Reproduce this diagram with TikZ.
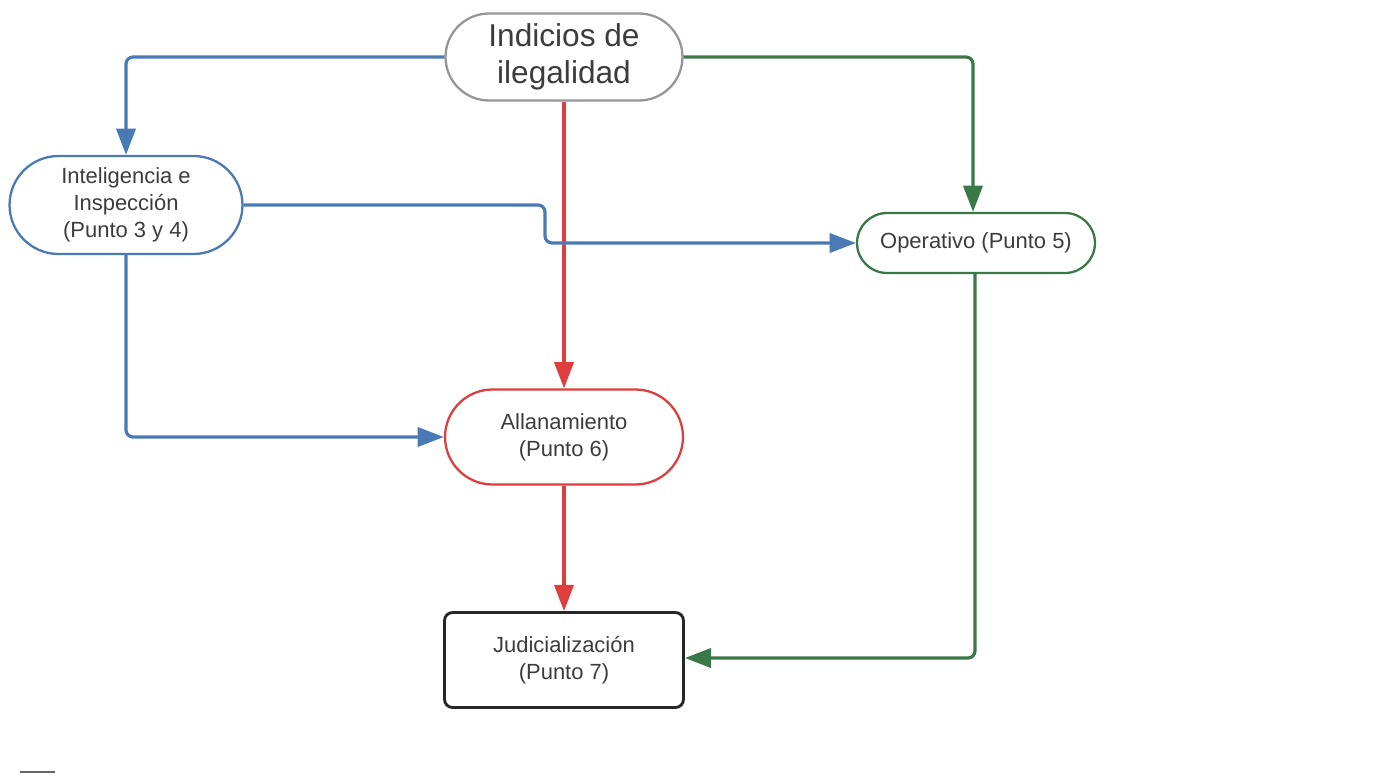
\documentclass[tikz,border=0pt]{standalone}
\usepackage{fontspec}
\setmainfont{Liberation Sans}
\usetikzlibrary{arrows.meta}
\definecolor{cblue}{RGB}{74,122,182}
\definecolor{cgreen}{RGB}{58,120,72}
\definecolor{cred}{RGB}{222,62,62}
\definecolor{cgray}{RGB}{150,150,150}
\definecolor{ctext}{RGB}{60,60,60}
\begin{document}
\begin{tikzpicture}[x=0.02cm,y=-0.02cm,
  box/.style={draw,line width=1.3pt,inner sep=0pt,align=center,text=ctext},
  small/.style={font=\fontsize{12.5}{15.5}\selectfont},
  conn/.style={line width=1.8pt,rounded corners=4pt,-{Triangle[length=15pt,width=11pt]}}]
\useasboundingbox (0,0) rectangle (1373,777);
\node[box,draw=cgray,minimum width=4.74cm,minimum height=1.74cm,rounded corners=0.87cm,
  font=\fontsize{18}{21}\selectfont] (ind) at (564,57) {Indicios de\\ilegalidad};
\node[box,small,draw=cblue,minimum width=4.66cm,minimum height=1.96cm,rounded corners=0.98cm] (int) at (126,205) {Inteligencia e\\Inspección\\(Punto 3 y 4)};
\node[box,small,draw=cgreen,minimum width=4.76cm,minimum height=1.2cm,rounded corners=0.6cm] (ope) at (976,243) {Operativo (Punto 5)};
\node[box,small,draw=cred,minimum width=4.76cm,minimum height=1.9cm,rounded corners=0.95cm] (all) at (564,437) {Allanamiento\\(Punto 6)};
\node[box,small,draw=black!85,line width=1.6pt,minimum width=4.78cm,minimum height=1.9cm,rounded corners=0.16cm] (jud) at (564,660) {Judicialización\\(Punto 7)};
% connectors
\draw[conn,cblue] (ind.west) -| (int.north);
\draw[conn,cgreen] (ind.east) -| (ope.north -| 973,0);
\draw[conn,cred] (ind.south) -- (all.north);
\draw[conn,cblue] (int.east |- 0,205) -- (545,205) -- (545,243) -- (ope.west);
\draw[conn,cblue] (int.south) |- (all.west);
\draw[conn,cred] (all.south) -- (jud.north);
\draw[conn,cgreen] (ope.south -| 975,0) |- (jud.east |- 0,658);
% footnote rule
\coordinate (f1) at (20,772);
\coordinate (f2) at (55,772);
\draw[line width=1.2pt,black!60] (f1) -- (f2);
\end{tikzpicture}
\end{document}
